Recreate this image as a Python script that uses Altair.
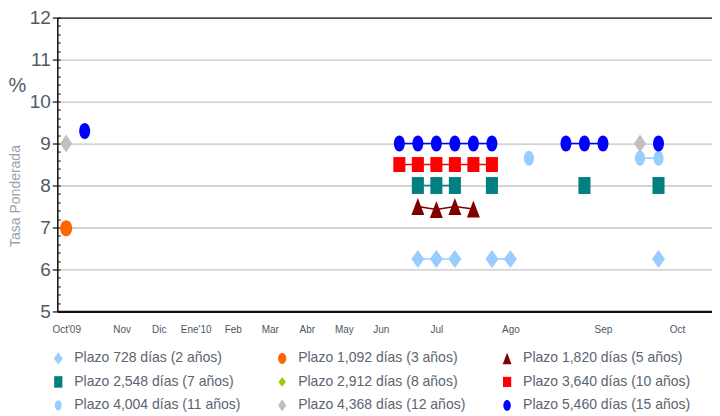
import altair as alt
import pandas as pd

# ---------------- data ----------------
MONTH_POS = [0, 3, 5, 7, 9, 11, 13, 15, 17, 20, 24, 29, 33]
MONTH_LABELS = ["Oct'09", "Nov", "Dic", "Ene'10", "Feb", "Mar", "Abr", "May",
                "Jun", "Jul", "Ago", "Sep", "Oct"]

SERIES = ["Plazo 728 días (2 años)", "Plazo 1,092 días (3 años)", "Plazo 1,820 días (5 años)",
          "Plazo 2,548 días (7 años)", "Plazo 2,912 días (8 años)", "Plazo 3,640 días (10 años)",
          "Plazo 4,004 días (11 años)", "Plazo 4,368 días (12 años)", "Plazo 5,460 días (15 años)"]
COLORS = ["#99ccff", "#ff6600", "#800000", "#008080", "#99cc00", "#ff0000",
          "#99ccff", "#c0c0c0", "#0000ff"]

# auction index (category position) and weighted rate per series
S728_X = [19, 20, 21, 23, 24, 32]
S728_Y = [6.25, 6.25, 6.25, 6.25, 6.25, 6.25]
S1092_X = [0]
S1092_Y = [6.98]
S1820_X = [19, 20, 21, 22]
S1820_Y = [7.50, 7.43, 7.50, 7.44]
S2548_X = [19, 20, 21, 23, 28, 32]
S2548_Y = [8.0, 8.0, 8.0, 8.0, 8.0, 8.0]
S2912_X = []
S2912_Y = []
S3640_X = [18, 19, 20, 21, 22, 23]
S3640_Y = [8.5, 8.5, 8.5, 8.5, 8.5, 8.5]
S4004_X = [25, 31, 32]
S4004_Y = [8.65, 8.65, 8.65]
S4368_X = [0, 31]
S4368_Y = [9.0, 9.0]
S5460_X = [1, 18, 19, 20, 21, 22, 23, 27, 28, 29, 32]
S5460_Y = [9.3, 9.0, 9.0, 9.0, 9.0, 9.0, 9.0, 9.0, 9.0, 9.0, 9.0]

ALL_X = [S728_X, S1092_X, S1820_X, S2548_X, S2912_X, S3640_X, S4004_X, S4368_X, S5460_X]
ALL_Y = [S728_Y, S1092_Y, S1820_Y, S2548_Y, S2912_Y, S3640_Y, S4004_Y, S4368_Y, S5460_Y]

# marker shapes (taller than wide, like the stretched original)
SHAPES = [
    "M0,-1L0.72,0L0,1L-0.72,0Z",
    "M0,-0.89A0.67,0.89 0 1,1 0,0.89A0.67,0.89 0 1,1 0,-0.89Z",
    "M0,-0.94L0.72,0.94L-0.72,0.94Z",
    "M-0.67,-0.94H0.67V0.94H-0.67Z",
    "M0,-0.8L0.6,0L0,0.8L-0.6,0Z",
    "M-0.67,-0.83H0.67V0.83H-0.67Z",
    "M0,-0.83A0.56,0.83 0 1,1 0,0.83A0.56,0.83 0 1,1 0,-0.83Z",
    "M0,-1L0.67,0L0,1L-0.67,0Z",
    "M0,-0.89A0.61,0.89 0 1,1 0,0.89A0.61,0.89 0 1,1 0,-0.89Z",
]

MINOR_TICKS = [round(5 + k * 0.2, 1) for k in range(36)]

rows = []
for k, (name, xs, ys) in enumerate(zip(SERIES, ALL_X, ALL_Y)):
    seg = 0
    prev = None
    for x, y in zip(xs, ys):
        if prev is not None and x - prev > 1:
            seg += 1
        rows.append({"series": name, "key": k, "idx": x, "rate": y, "seg": f"{k}-{seg}"})
        prev = x
df = pd.DataFrame(rows)

label_map = "{" + ",".join(f"'{p}':\"{l}\"" for p, l in zip(MONTH_POS, MONTH_LABELS)) + "}"

x_scale = alt.Scale(domain=[-0.48, 34.89], nice=False, zero=False)
y_scale = alt.Scale(domain=[5, 12], nice=False, zero=False)

x_axis = alt.Axis(values=MONTH_POS, labelExpr=f"{label_map}[datum.value]",
                  title=None, grid=False, ticks=False, domainColor="#111111",
                  domainWidth=2.2, labelFont="Liberation Sans", labelFontSize=10,
                  labelColor="#4d5764", labelPadding=13)

y_axis_main = alt.Axis(values=[5, 6, 7, 8, 9, 10, 11, 12], title="Tasa Ponderada",
                       titleColor="#9aa3ad", titleFont="Liberation Sans",
                       titleFontSize=14, titleFontWeight="normal", titleX=-42, titleY=178,
                       titleAngle=270, titleAlign="center", titleBaseline="middle",
                       labelFont="Liberation Sans", labelFontSize=19, labelColor="#505b67",
                       labelPadding=2, tickSize=5, tickColor="#111111", tickWidth=1.2,
                       domainColor="#111111", domainWidth=1.5,
                       grid=True, gridWidth=1.3,
                       gridColor={"condition": {"test": "datum.value == 12", "value": "#111111"},
                                  "value": "#c6c6c6"})

y_axis_minor = alt.Axis(orient="left", values=MINOR_TICKS, offset=-3, labels=False,
                        domain=False, grid=False, title=None, tickSize=3,
                        tickColor="#111111", tickWidth=1)

legend = alt.Legend(title=None, orient="none", direction="horizontal", legendX=-6, legendY=334,
                    columns=3, columnPadding=34, rowPadding=9.5, symbolSize=150, padding=0,
                    labelFont="Liberation Sans", labelFontSize=14, labelLimit=260,
                    labelColor="#5b6470", labelOffset=9)

lines = alt.Chart(df).mark_line(strokeWidth=1.6).encode(
    x=alt.X("idx:Q", scale=x_scale, axis=x_axis),
    y=alt.Y("rate:Q", scale=y_scale, axis=y_axis_main),
    stroke=alt.Stroke("key:N", scale=alt.Scale(domain=list(range(len(SERIES))), range=COLORS),
                      legend=None),
    detail="seg:N",
)

points = alt.Chart(df).mark_point(filled=True, size=324, opacity=1).encode(
    x=alt.X("idx:Q", scale=x_scale, axis=x_axis),
    y=alt.Y("rate:Q", scale=y_scale, axis=y_axis_minor),
    color=alt.Color("series:N", scale=alt.Scale(domain=SERIES, range=COLORS), legend=legend),
    shape=alt.Shape("series:N", scale=alt.Scale(domain=SERIES, range=SHAPES), legend=legend),
)

pct = alt.Chart(pd.DataFrame({"t": ["%"]})).mark_text(
    fontSize=20, font="Liberation Sans", color="#505b67", align="center", baseline="middle"
).encode(x=alt.value(-40), y=alt.value(68), text="t:N")

chart = alt.layer(lines, points, pct).resolve_axis(y="independent").properties(
    width=655, height=294,
    autosize=alt.AutoSizeParams(type="none"),
    padding={"left": 49.3, "top": 9.5, "right": 0, "bottom": 100},
).configure_view(stroke=None).configure(background="white")

chart.save("out.html", embed_options={"renderer": "svg", "actions": False})
